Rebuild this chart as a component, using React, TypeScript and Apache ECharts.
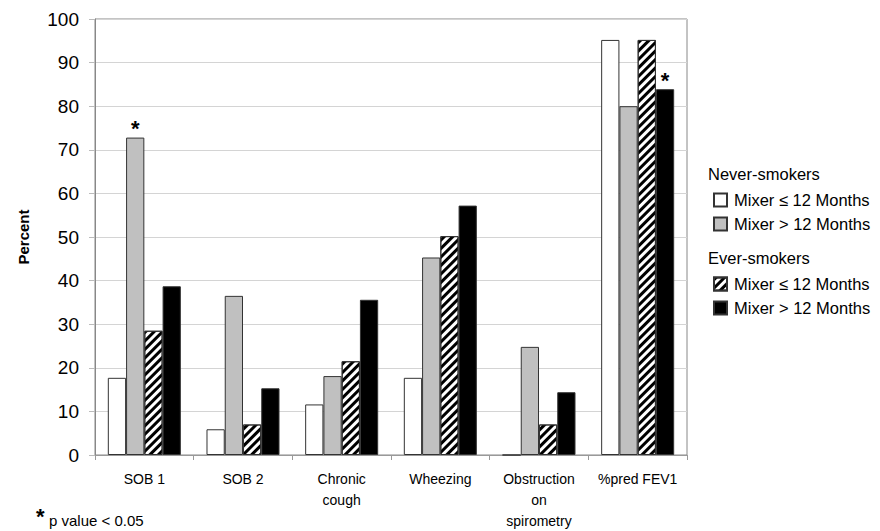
import React, { useEffect, useRef } from "react";
import * as echarts from "echarts";

const categories = ["SOB 1", "SOB 2", "Chronic\ncough", "Wheezing", "Obstruction\non\nspirometry", "%pred FEV1"];
const neverLe12 = [17.7, 5.9, 11.6, 17.7, 0, 95.2];
const neverGt12 = [72.8, 36.5, 18.1, 45.3, 24.8, 80.0];
const everLe12 = [28.5, 7.0, 21.5, 50.2, 7.0, 95.2];
const everGt12 = [38.7, 15.3, 35.6, 57.2, 14.4, 83.9];
const yTicks = [0, 10, 20, 30, 40, 50, 60, 70, 80, 90, 100];
// indices (category) flagged with asterisk
const sigNeverGt12 = [0];
const sigEverGt12 = [5];

const FONT = "Liberation Sans, Arial, sans-serif";

function withStar(values: number[], sig: number[]) {
  return values.map((v, i) =>
    sig.includes(i)
      ? {
          value: v,
          label: {
            show: true,
            position: "top",
            formatter: "*",
            fontSize: 22,
            fontWeight: "bold",
            color: "#000",
            fontFamily: FONT,
            distance: -2,
          },
        }
      : v
  );
}

export default function App() {
  const ref = useRef<HTMLDivElement>(null);
  useEffect(() => {
    if (!ref.current) return;
    const chart = echarts.init(ref.current, undefined, { renderer: "svg" });
    const border = { borderColor: "#333", borderWidth: 1 };
    const names = [
      "Never-smokers Mixer ≤ 12 Months",
      "Never-smokers Mixer > 12 Months",
      "Ever-smokers Mixer ≤ 12 Months",
      "Ever-smokers Mixer > 12 Months",
    ];
    const legendCommon = {
      orient: "vertical",
      left: 708,
      icon: "rect",
      itemWidth: 13,
      itemHeight: 13,
      itemGap: 6,
      selectedMode: false,
      formatter: (n: string) => n.replace(/^.*?smokers /, ""),
      textStyle: { fontSize: 16.5, lineHeight: 18, color: "#000", fontFamily: FONT, padding: [0, 0, 0, 2] },
    };
    chart.setOption({
      animation: false,
      backgroundColor: "#fff",
      grid: { left: 95, top: 19, width: 592, height: 436, show: true, borderColor: "#888", borderWidth: 1 },
      legend: [
        { ...legendCommon, top: 186, data: [names[0], names[1]] },
        { ...legendCommon, top: 270, data: [names[2], names[3]] },
      ],
      xAxis: {
        type: "category",
        data: categories,
        axisLine: { lineStyle: { color: "#999" } },
        axisTick: { show: true, length: 5, lineStyle: { color: "#999" } },
        axisLabel: { color: "#000", fontSize: 14, fontFamily: FONT, lineHeight: 21, margin: 13, interval: 0 },
      },
      yAxis: {
        type: "value",
        min: 0,
        max: 100,
        interval: 10,
        name: "Percent",
        nameLocation: "middle",
        nameGap: 64,
        nameTextStyle: { fontWeight: "bold", fontSize: 15, color: "#000", fontFamily: FONT },
        axisLine: { show: true, lineStyle: { color: "#888" } },
        axisTick: { show: true, length: 6, lineStyle: { color: "#bbb" } },
        axisLabel: {
          color: "#000",
          fontSize: 19,
          fontFamily: FONT,
          margin: 16,
          formatter: (v: number) => (yTicks.includes(v) ? String(v) : ""),
        },
        splitLine: { lineStyle: { color: "#d4d4d4" } },
      },
      series: [
        { name: names[0], type: "bar", data: neverLe12, barGap: "0%", barCategoryGap: "26%", itemStyle: { color: "#fff", ...border } },
        { name: names[1], type: "bar", data: withStar(neverGt12, sigNeverGt12), barGap: "0%", barCategoryGap: "26%", itemStyle: { color: "#c0c0c0", ...border } },
        {
          name: names[2],
          type: "bar",
          data: everLe12,
          barGap: "0%",
          barCategoryGap: "26%",
          itemStyle: {
            color: "#fff",
            ...border,
            decal: {
              symbol: "rect",
              symbolSize: 1,
              color: "#000",
              backgroundColor: "#fff",
              dashArrayX: [1, 0],
              dashArrayY: [3, 3],
              rotation: -Math.PI / 4,
            },
          },
        },
        { name: names[3], type: "bar", data: withStar(everGt12, sigEverGt12), barGap: "0%", barCategoryGap: "26%", itemStyle: { color: "#000", ...border } },
      ],
      graphic: [
        { type: "text", left: 708, top: 165, style: { text: "Never-smokers", fontSize: 16.5, fill: "#000", fontFamily: FONT } },
        { type: "text", left: 708, top: 249, style: { text: "Ever-smokers", fontSize: 16.5, fill: "#000", fontFamily: FONT } },
        { type: "text", left: 36, top: 505, style: { text: "*", fontSize: 22, fontWeight: "bold", fill: "#000", fontFamily: FONT } },
        { type: "text", left: 49, top: 513, style: { text: "p value < 0.05", fontSize: 15, fill: "#000", fontFamily: FONT } },
      ],
    });
    return () => chart.dispose();
  }, []);
  return <div ref={ref} style={{ position: "fixed", left: 0, top: 0, width: 880, height: 531 }} />;
}
